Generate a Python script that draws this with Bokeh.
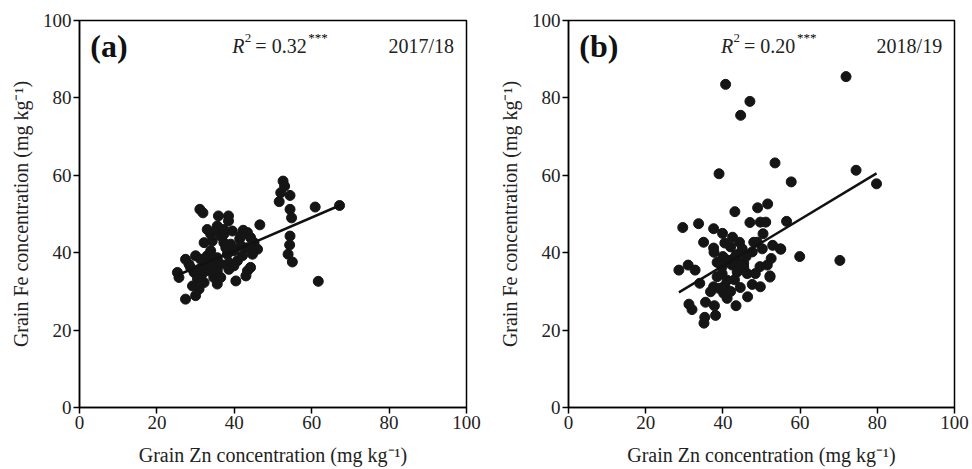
from bokeh.plotting import figure
from bokeh.layouts import row
from bokeh.models import Range1d, FixedTicker
from bokeh.core.properties import value
from bokeh.embed import file_html
from bokeh.resources import INLINE

SERIF = "Liberation Serif"

# ---------------- data ----------------
panel_labels = ["(a)", "(b)"]
season_labels = ["2017/18", "2018/19"]
r2_values = ["0.32", "0.20"]
ticks = [0, 20, 40, 60, 80, 100]
x_title = "Grain Zn concentration (mg kg\u207b\u00b9)"
y_title = "Grain Fe concentration (mg kg\u207b\u00b9)"

# 2017/18 : Zn (x), Fe (y)
zn_a = [52.6, 53.0, 52.0, 54.4, 51.6, 54.4, 54.8, 60.9, 67.2, 54.4, 54.3, 53.9, 55.0, 61.7,
        31.1, 31.9, 35.9, 38.5, 38.5, 46.6, 33.0, 35.6, 39.5, 42.3, 32.2, 34.3, 37.3, 36.5,
        41.4, 44.2, 45.1, 46.0, 43.4, 41.7, 39.9, 38.2, 35.6, 34.7, 36.5, 38.6, 40.8, 27.4,
        28.3, 30.0, 31.3, 32.2, 30.9, 29.6, 31.7, 30.5, 32.2, 29.2, 30.9, 25.3, 25.7, 27.4,
        30.0, 35.6, 34.7, 36.5, 35.6, 40.4, 43.4, 44.2, 43.0, 33.0, 33.9, 37.8, 39.1, 41.7,
        43.4, 33.9, 37.3, 35.2, 37.3, 33.5, 28.7, 38.6, 39.9, 42.1, 44.7, 33.9]
fe_a = [58.5, 57.2, 55.5, 54.8, 53.2, 51.2, 49.0, 51.8, 52.2, 44.3, 42.0, 39.6, 37.6, 32.6,
        51.2, 50.3, 49.5, 49.5, 48.2, 47.2, 46.0, 46.9, 45.6, 45.8, 42.6, 43.0, 42.6, 44.3,
        43.6, 43.9, 42.6, 40.9, 41.3, 41.8, 40.5, 39.6, 38.7, 37.9, 37.0, 37.4, 37.9, 38.3,
        37.0, 39.2, 38.3, 37.0, 35.7, 34.9, 34.5, 33.2, 32.3, 31.4, 30.6, 34.9, 33.6, 28.0,
        28.9, 35.3, 33.6, 33.6, 31.9, 32.7, 35.3, 36.2, 34.0, 39.2, 40.5, 41.3, 42.2, 44.3,
        45.2, 44.8, 44.8, 45.6, 46.0, 35.3, 36.2, 35.7, 36.6, 39.2, 39.6, 36.6]

# 2018/19 : Zn (x), Fe (y)
zn_b = [40.7, 47.0, 44.6, 71.9, 39.0, 53.5, 57.7, 74.5, 79.8, 70.3,
        43.1, 49.0, 51.6, 56.5, 47.0, 49.7, 51.1, 29.6, 33.7, 37.6, 39.9, 50.4, 35.0, 37.6,
        37.7, 42.0, 44.3, 48.0, 48.9, 50.2, 52.9, 55.0, 59.9, 52.5, 51.5, 52.2, 49.6, 45.4,
        41.1, 39.8, 28.6, 31.0, 32.8, 34.0, 38.5, 37.6, 41.1, 43.7, 46.3, 48.4, 47.6, 49.7,
        46.4, 41.1, 43.4, 38.9, 40.2, 36.8, 31.2, 32.0, 35.5, 37.8, 38.1, 35.3, 35.1, 42.8,
        44.3, 42.4, 39.8, 45.4, 47.6, 52.2, 54.9, 40.5, 42.0, 43.0, 44.5, 40.0, 46.0, 45.0,
        43.5, 38.5, 40.5, 42.5]
fe_b = [83.5, 79.1, 75.5, 85.5, 60.4, 63.2, 58.3, 61.3, 57.8, 38.0,
        50.6, 51.6, 52.6, 48.1, 47.8, 47.9, 47.9, 46.5, 47.5, 46.2, 45.0, 44.9, 42.7, 41.2,
        40.1, 41.5, 42.7, 42.7, 42.7, 41.0, 41.9, 40.9, 39.0, 38.5, 36.8, 34.0, 36.4, 37.3,
        38.1, 36.4, 35.5, 36.8, 35.5, 32.1, 33.8, 31.2, 32.9, 35.0, 34.6, 34.6, 31.8, 31.2,
        28.6, 28.2, 26.3, 30.8, 29.5, 29.9, 26.7, 25.3, 27.2, 26.3, 23.8, 23.3, 21.8, 38.5,
        37.3, 36.8, 34.6, 36.3, 40.2, 33.7, 41.0, 31.5, 30.0, 33.0, 31.0, 39.0, 39.0, 41.0,
        39.5, 37.5, 42.5, 44.0]

# fitted regression lines (slope, intercept)
fit_a = (0.43, 23.3)
fit_b = (0.60, 12.6)


def make_panel(zn, fe, fit, label, season, r2, w, h, bl, br, bt, bb):
    p = figure(width=w, height=h, x_range=Range1d(0, 100), y_range=Range1d(0, 100),
               output_backend="svg", toolbar_location=None,
               min_border_left=bl, min_border_right=br, min_border_top=bt, min_border_bottom=bb)
    p.grid.visible = False
    p.outline_line_color = "black"
    p.outline_line_width = 1.5
    p.outline_line_alpha = 1.0
    p.background_fill_color = "white"
    p.border_fill_color = "white"
    for ax in (p.xaxis[0], p.yaxis[0]):
        ax.ticker = FixedTicker(ticks=ticks)
        ax.axis_line_color = "black"
        ax.axis_line_width = 1.5
        ax.major_tick_line_color = "black"
        ax.major_tick_line_width = 1.5
        ax.major_tick_out = 6
        ax.major_tick_in = 0
        ax.minor_tick_line_color = None
        ax.major_label_text_font = SERIF
        ax.major_label_text_font_size = "19px"
        ax.major_label_text_color = "#222222"
        ax.major_label_standoff = 2
        ax.axis_label_text_font = SERIF
        ax.axis_label_text_font_size = "20px"
        ax.axis_label_text_font_style = "normal"
        ax.axis_label_text_color = "#222222"
    p.xaxis[0].axis_label_standoff = 12
    p.yaxis[0].axis_label_standoff = 8
    p.xaxis.axis_label = x_title
    p.yaxis.axis_label = y_title

    p.scatter(x=zn, y=fe, size=10, color="#151515", line_color="#151515")
    x0, x1 = min(zn), max(zn)
    p.line(x=[x0, x1], y=[fit[1] + fit[0] * x0, fit[1] + fit[0] * x1],
           line_color="#111111", line_width=2.5)

    ty = 93.3
    p.text(x=[2.8], y=[ty], text=[label], text_font=value(SERIF), text_font_size="32px",
           text_font_style="bold", text_baseline="alphabetic", text_color="#111111")
    p.text(x=[96.8], y=[ty], text=[season], text_font=value(SERIF), text_font_size="20px",
           text_align="right", text_baseline="alphabetic", text_color="#222222")
    rx = 39.5
    p.text(x=[rx], y=[ty], text=["R"], text_font=value(SERIF), text_font_size="20px",
           text_font_style="italic", text_baseline="alphabetic", text_color="#222222")
    p.text(x=[rx], y=[ty], text=["2"], x_offset=12.5, y_offset=-8, text_font=value(SERIF),
           text_font_size="13px", text_baseline="alphabetic", text_color="#222222")
    p.text(x=[rx], y=[ty], text=["= " + r2], x_offset=23, text_font=value(SERIF),
           text_font_size="20px", text_baseline="alphabetic", text_color="#222222")
    p.text(x=[rx], y=[ty], text=["***"], x_offset=76, y_offset=-9, text_font=value(SERIF),
           text_font_size="13px", text_baseline="alphabetic", text_color="black")
    return p


p1 = make_panel(zn_a, fe_a, fit_a, panel_labels[0], season_labels[0], r2_values[0],
                490, 469, 79, 24, 19, 62)
p2 = make_panel(zn_b, fe_b, fit_b, panel_labels[1], season_labels[1], r2_values[1],
                482, 469, 78, 18, 20, 60)

layout = row(p1, p2)
open("out.html", "w").write(file_html(layout, INLINE))
